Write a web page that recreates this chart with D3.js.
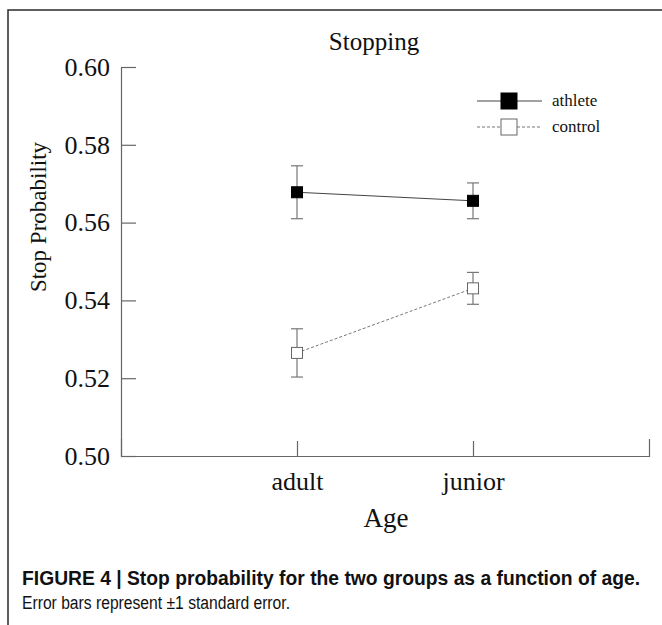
<!DOCTYPE html>
<html>
<head>
<meta charset="utf-8">
<script src="https://cdn.jsdelivr.net/npm/d3@7"></script>
<style>
  body { margin: 0; background: #fff; }
  svg text { font-family: "Liberation Serif", "Times New Roman", serif; fill: #111; }
  svg text.caption { font-family: "Liberation Sans", Arial, sans-serif; }
</style>
</head>
<body>
<svg width="662" height="625"></svg>
<script>
var ages = ["adult", "junior"];
var groups = ["athlete", "control"];
var athleteMean = [0.5678, 0.5656];
var athleteSE = [0.0068, 0.0046];
var controlMean = [0.5265, 0.5431];
var controlSE = [0.0062, 0.0041];
var yTicks = [0.50, 0.52, 0.54, 0.56, 0.58, 0.60];

var svg = d3.select("svg");

// frame round the figure, runs off the right and bottom edge
svg.append("rect")
  .attr("x", 8).attr("y", 10)
  .attr("width", 700).attr("height", 700)
  .attr("fill", "none")
  .attr("stroke", "#2a2a2a")
  .attr("stroke-width", 1.5);

var mLeft = 121, mRight = 649, mTop = 67, mBottom = 456;

var x = d3.scalePoint().domain(ages).range([mLeft, mRight]).padding(1);
var y = d3.scaleLinear().domain([0.5, 0.6]).range([mBottom, mTop]);

var yAxis = svg.append("g")
  .attr("transform", "translate(" + mLeft + ",0)")
  .call(d3.axisLeft(y).tickValues(yTicks).tickFormat(d3.format(".2f")).tickSize(-15).tickSizeOuter(0).tickPadding(11));
yAxis.selectAll("text").attr("font-size", 26);

var xAxis = svg.append("g")
  .attr("transform", "translate(0," + mBottom + ")")
  .call(d3.axisBottom(x).tickSize(-15).tickSizeOuter(-17).tickPadding(16));
xAxis.selectAll("text").attr("font-size", 26);

svg.selectAll(".domain, .tick line").attr("stroke", "#666").attr("stroke-width", 1.2);

// titles
svg.append("text").attr("x", 374).attr("y", 50).attr("text-anchor", "middle")
  .attr("font-size", 25).text("Stopping");
svg.append("text").attr("x", 386).attr("y", 527).attr("text-anchor", "middle")
  .attr("font-size", 27).text("Age");
svg.append("text")
  .attr("transform", "translate(46,217) rotate(-90)")
  .attr("text-anchor", "middle")
  .attr("font-size", 23).text("Stop Probability");

var series = [
  { name: "athlete", mean: athleteMean, se: athleteSE, fill: "#000", stroke: "#000", line: "#444", dash: null },
  { name: "control", mean: controlMean, se: controlSE, fill: "#fff", stroke: "#666", line: "#777", dash: "3,2" }
];

series.forEach(function(s) {
  var pts = ages.map(function(a, i) { return { age: a, m: s.mean[i], e: s.se[i] }; });

  // error bars
  var eb = svg.append("g").attr("stroke", "#777").attr("stroke-width", 1.2);
  pts.forEach(function(p) {
    eb.append("line").attr("x1", x(p.age)).attr("x2", x(p.age))
      .attr("y1", y(p.m - p.e)).attr("y2", y(p.m + p.e));
    [p.m - p.e, p.m + p.e].forEach(function(v) {
      eb.append("line").attr("x1", x(p.age) - 6).attr("x2", x(p.age) + 6)
        .attr("y1", y(v)).attr("y2", y(v));
    });
  });

  svg.append("path")
    .datum(pts)
    .attr("fill", "none")
    .attr("stroke", s.line)
    .attr("stroke-width", 1)
    .attr("stroke-dasharray", s.dash)
    .attr("d", d3.line().x(function(d) { return x(d.age); }).y(function(d) { return y(d.m); }));

  svg.selectAll(null).data(pts).enter().append("rect")
    .attr("x", function(d) { return x(d.age) - 5.5; })
    .attr("y", function(d) { return y(d.m) - 5.5; })
    .attr("width", 11).attr("height", 11)
    .attr("fill", s.fill)
    .attr("stroke", s.stroke)
    .attr("stroke-width", 1);
});

// legend
var legend = svg.append("g").attr("transform", "translate(477,101)");
series.forEach(function(s, i) {
  var g = legend.append("g").attr("transform", "translate(0," + i * 26 + ")");
  g.append("line").attr("x1", 0).attr("x2", 65).attr("y1", 0).attr("y2", 0)
    .attr("stroke", s.line).attr("stroke-width", 1).attr("stroke-dasharray", s.dash);
  g.append("rect").attr("x", 24).attr("y", -8).attr("width", 16).attr("height", 16)
    .attr("fill", s.fill).attr("stroke", s.stroke).attr("stroke-width", 1);
  g.append("text").attr("x", 75).attr("y", 5).attr("font-size", 17).text(s.name);
});

// caption
svg.append("text").attr("class", "caption")
  .attr("x", 22).attr("y", 585)
  .attr("font-size", 20).attr("font-weight", "bold")
  .attr("textLength", 618).attr("lengthAdjust", "spacingAndGlyphs")
  .text("FIGURE 4 | Stop probability for the two groups as a function of age.");
svg.append("text").attr("class", "caption")
  .attr("x", 22).attr("y", 609)
  .attr("font-size", 18).attr("fill", "#333")
  .attr("textLength", 268).attr("lengthAdjust", "spacingAndGlyphs")
  .text("Error bars represent \u00b11 standard error.");
</script>
</body>
</html>
